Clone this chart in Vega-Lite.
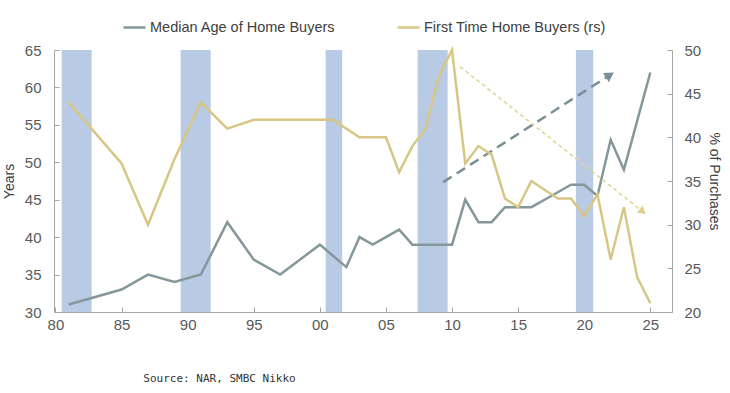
{
  "$schema": "https://vega.github.io/schema/vega-lite/v6.json",
  "width": 618,
  "height": 262,
  "autosize": "none",
  "padding": {"left": 54, "top": 50, "right": 58, "bottom": 81},
  "config": {
    "view": {"stroke": null},
    "font": "Liberation Sans",
    "axis": {"grid": false, "domainColor": "#a6a6a6", "tickColor": "#a6a6a6", "labelColor": "#595959", "labelFontSize": 15, "titleColor": "#404040", "titleFontSize": 14, "titleFontWeight": "normal", "labelOverlap": false}
  },
  "title": {"text": "Source: NAR, SMBC Nikko", "orient": "bottom", "anchor": "start", "dx": 141, "offset": 41, "font": "DejaVu Sans Mono", "fontSize": 11, "fontWeight": "normal", "color": "#333333"},
  "datasets": {
    "recessions": [
      {"start": 1980.47, "end": 1982.74},
      {"start": 1989.47, "end": 1991.74},
      {"start": 2000.44, "end": 2001.69},
      {"start": 2007.4, "end": 2009.67},
      {"start": 2019.37, "end": 2020.68}
    ],
    "age": [
      {"year": 1981, "value": 31}, {"year": 1985, "value": 33}, {"year": 1987, "value": 35},
      {"year": 1989, "value": 34}, {"year": 1991, "value": 35}, {"year": 1993, "value": 42},
      {"year": 1995, "value": 37}, {"year": 1997, "value": 35}, {"year": 2000, "value": 39},
      {"year": 2002, "value": 36}, {"year": 2003, "value": 40}, {"year": 2004, "value": 39},
      {"year": 2005, "value": 40}, {"year": 2006, "value": 41}, {"year": 2007, "value": 39},
      {"year": 2008, "value": 39}, {"year": 2009, "value": 39}, {"year": 2010, "value": 39},
      {"year": 2011, "value": 45}, {"year": 2012, "value": 42}, {"year": 2013, "value": 42},
      {"year": 2014, "value": 44}, {"year": 2015, "value": 44}, {"year": 2016, "value": 44},
      {"year": 2017, "value": 45}, {"year": 2018, "value": 46}, {"year": 2019, "value": 47},
      {"year": 2020, "value": 47}, {"year": 2021, "value": 45.5}, {"year": 2022, "value": 53},
      {"year": 2023, "value": 49}, {"year": 2024, "value": 55.5}, {"year": 2025, "value": 62}
    ],
    "ftb": [
      {"year": 1981, "value": 44}, {"year": 1985, "value": 37}, {"year": 1987, "value": 30},
      {"year": 1989, "value": 37.5}, {"year": 1991, "value": 44}, {"year": 1993, "value": 41},
      {"year": 1995, "value": 42}, {"year": 1997, "value": 42}, {"year": 2000, "value": 42},
      {"year": 2001, "value": 42}, {"year": 2002, "value": 41}, {"year": 2003, "value": 40},
      {"year": 2004, "value": 40}, {"year": 2005, "value": 40}, {"year": 2006, "value": 36},
      {"year": 2007, "value": 39}, {"year": 2008, "value": 41}, {"year": 2009, "value": 47},
      {"year": 2010, "value": 50}, {"year": 2011, "value": 37}, {"year": 2012, "value": 39},
      {"year": 2013, "value": 38}, {"year": 2014, "value": 33}, {"year": 2015, "value": 32},
      {"year": 2016, "value": 35}, {"year": 2017, "value": 34}, {"year": 2018, "value": 33},
      {"year": 2019, "value": 33}, {"year": 2020, "value": 31}, {"year": 2021, "value": 33.5},
      {"year": 2022, "value": 26}, {"year": 2023, "value": 32}, {"year": 2024, "value": 24},
      {"year": 2025, "value": 21}
    ],
    "ageTrend": [
      {"year": 2009.33, "value": 47.35, "part": "start"},
      {"year": 2021.94, "value": 61.65, "part": "end"}
    ],
    "ftbTrend": [
      {"year": 2010.6, "value": 48.1, "part": "start"},
      {"year": 2024.43, "value": 31.49, "part": "end"}
    ]
  },
  "layer": [
    {
      "layer": [
        {
          "data": {"name": "recessions"},
          "mark": {"type": "rect", "color": "#b8cae4"},
          "encoding": {
            "x": {"field": "start", "type": "quantitative", "scale": {"domain": [1979.89, 2026.64], "nice": false, "zero": false},
                  "axis": {"values": [1980, 1985, 1990, 1995, 2000, 2005, 2010, 2015, 2020, 2025], "labelExpr": "substring(format(datum.value, 'd'), 2)", "title": null, "tickSize": -5, "labelPadding": 10, "labelFlush": false}},
            "x2": {"field": "end"}
          }
        },
        {
          "data": {"name": "age"},
          "mark": {"type": "line", "strokeWidth": 2.5},
          "encoding": {
            "x": {"field": "year", "type": "quantitative"},
            "y": {"field": "value", "type": "quantitative", "scale": {"domain": [30, 65], "nice": false, "zero": false},
                  "axis": {"orient": "left", "values": [30, 35, 40, 45, 50, 55, 60, 65], "title": "Years", "tickSize": -5, "labelPadding": 18, "titlePadding": 8, "labelOverlap": false}},
            "color": {"datum": "Median Age of Home Buyers", "type": "nominal",
                      "scale": {"domain": ["Median Age of Home Buyers", "First Time Home Buyers (rs)"], "range": ["#84979a", "#d8c684"]},
                      "legend": {"orient": "none", "legendX": 68, "legendY": -35, "direction": "horizontal", "title": null, "symbolType": "stroke", "symbolSize": 484, "symbolStrokeWidth": 2.5, "labelFontSize": 14.5, "labelColor": "#404040", "labelLimit": 0, "columnPadding": 56, "labelOffset": 3}}
          }
        },
        {
          "data": {"name": "ageTrend"},
          "mark": {"type": "line", "color": "#7d8f96", "strokeWidth": 2.5, "strokeDash": [10, 6]},
          "encoding": {
            "x": {"field": "year", "type": "quantitative"},
            "y": {"field": "value", "type": "quantitative",
                  "axis": {"orient": "left", "values": [30, 35, 40, 45, 50, 55, 60, 65], "title": "Years", "tickSize": -5, "labelPadding": 18, "titlePadding": 8, "labelOverlap": false}}
          }
        },
        {
          "data": {"name": "ageTrend"},
          "transform": [{"filter": "datum.part == 'end'"}],
          "mark": {"type": "point", "shape": "triangle-right", "filled": true, "color": "#7d8f96", "size": 120, "angle": 327, "opacity": 1},
          "encoding": {
            "x": {"field": "year", "type": "quantitative"},
            "y": {"field": "value", "type": "quantitative",
                  "axis": {"orient": "left", "values": [30, 35, 40, 45, 50, 55, 60, 65], "title": "Years", "tickSize": -5, "labelPadding": 18, "titlePadding": 8, "labelOverlap": false}}
          }
        }
      ]
    },
    {
      "layer": [
        {
          "data": {"name": "ftb"},
          "mark": {"type": "line", "strokeWidth": 2.5},
          "encoding": {
            "x": {"field": "year", "type": "quantitative"},
            "y": {"field": "value", "type": "quantitative", "scale": {"domain": [20, 50], "nice": false, "zero": false},
                  "axis": {"orient": "right", "values": [20, 25, 30, 35, 40, 45, 50], "title": "% of Purchases", "tickSize": -5, "labelPadding": 17, "titlePadding": 6}},
            "color": {"datum": "First Time Home Buyers (rs)", "type": "nominal"}
          }
        },
        {
          "data": {"name": "ftbTrend"},
          "mark": {"type": "line", "color": "#e2d598", "strokeWidth": 1.6, "strokeDash": [4, 3]},
          "encoding": {
            "x": {"field": "year", "type": "quantitative"},
            "y": {"field": "value", "type": "quantitative",
                  "axis": {"orient": "right", "values": [20, 25, 30, 35, 40, 45, 50], "title": "% of Purchases", "tickSize": -5, "labelPadding": 17, "titlePadding": 6}}
          }
        },
        {
          "data": {"name": "ftbTrend"},
          "transform": [{"filter": "datum.part == 'end'"}],
          "mark": {"type": "point", "shape": "triangle-right", "filled": true, "color": "#ddcf8e", "size": 80, "angle": 38.5, "opacity": 1},
          "encoding": {
            "x": {"field": "year", "type": "quantitative"},
            "y": {"field": "value", "type": "quantitative",
                  "axis": {"orient": "right", "values": [20, 25, 30, 35, 40, 45, 50], "title": "% of Purchases", "tickSize": -5, "labelPadding": 17, "titlePadding": 6}}
          }
        }
      ]
    }
  ],
  "resolve": {"scale": {"y": "independent"}}
}
